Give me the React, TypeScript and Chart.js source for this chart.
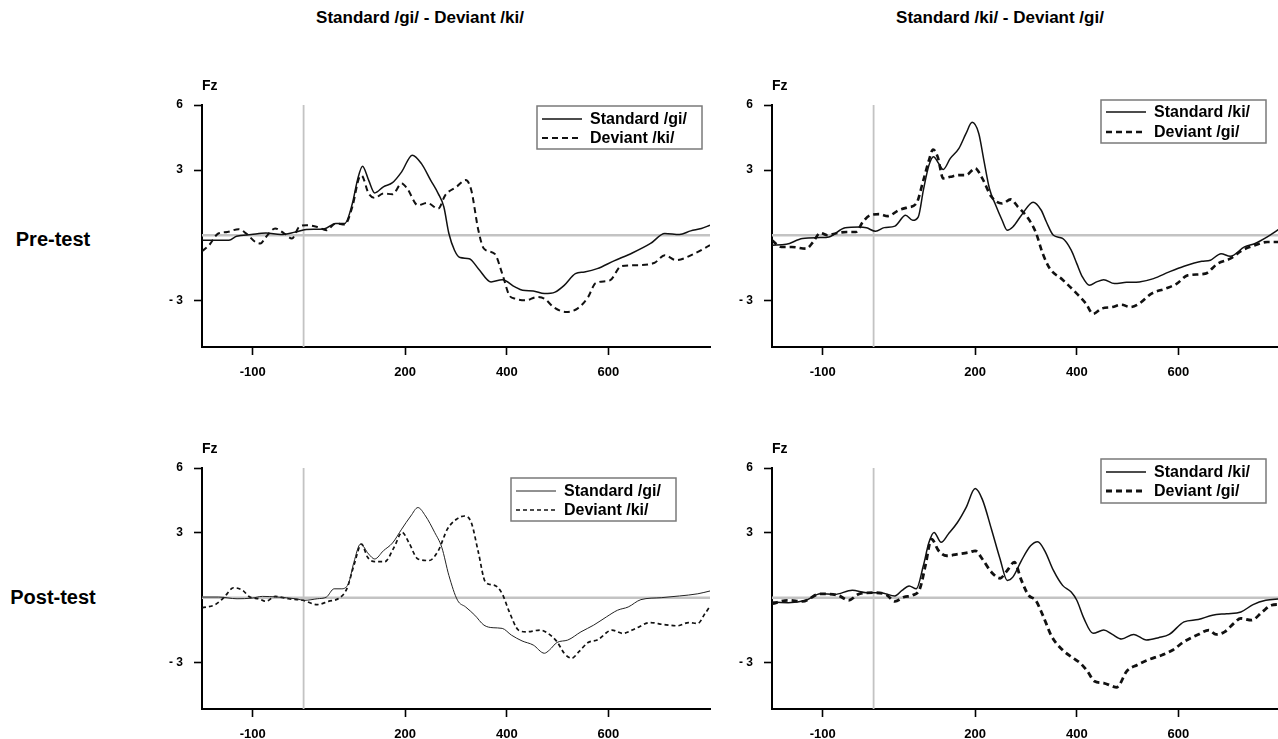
import React, { useEffect, useRef } from 'react';
import { Chart, registerables } from 'chart.js';

Chart.register(...registerables);

const FONT = '"Liberation Sans", Arial, Helvetica, sans-serif';

// ---------- text ----------
const columnTitles = ['Standard /gi/ - Deviant /ki/', 'Standard /ki/ - Deviant /gi/'];
const rowTitles = ['Pre-test', 'Post-test'];
const channelName = 'Fz';
const seriesLabels = [
  ['Standard /gi/', 'Deviant /ki/'],
  ['Standard /ki/', 'Deviant /gi/'],
];

// ---------- axes ----------
const xTickValues = [-100, 200, 400, 600];
const yTickValues = [6, 3, -3];
const xMin = -200;
const xMax = 800;
const yMin = -5.15;
const yMax = 6;
const baselineValue = 0;
const stimulusOnset = 0;

// ---------- Pre-test, Standard /gi/ - Deviant /ki/ ----------
const preStdGiT = [-200, -147, -132, -103, -74, -45, -16, 5, 41, 63, 81, 96, 106, 116, 128, 140, 157, 175, 193, 214, 232, 250, 265, 276, 286, 297, 308, 326, 344, 369, 391, 416, 431, 452, 474, 495, 513, 535, 553, 578, 611, 647, 683, 711, 740, 762, 783, 800];
const preStdGiV = [-0.23, -0.23, -0.05, 0.03, 0.1, 0.03, 0.15, 0.26, 0.3, 0.54, 0.54, 1.46, 2.54, 3.18, 2.54, 1.95, 2.23, 2.42, 2.92, 3.69, 3.3, 2.54, 1.92, 1.31, 0.08, -0.69, -1.03, -1.08, -1.54, -2.15, -2.05, -2.38, -2.54, -2.57, -2.69, -2.62, -2.31, -1.77, -1.69, -1.54, -1.18, -0.82, -0.38, 0.08, 0.03, 0.2, 0.31, 0.46];
const preDevKiT = [-200, -186, -168, -150, -128, -113, -95, -85, -74, -56, -38, -23, -9, 5, 27, 45, 63, 81, 96, 110, 114, 128, 140, 157, 175, 193, 204, 225, 243, 265, 279, 301, 319, 330, 344, 355, 376, 391, 405, 416, 438, 459, 474, 492, 517, 539, 560, 575, 603, 625, 654, 690, 711, 733, 769, 800];
const preDevKiV = [-0.74, -0.46, 0.08, 0.15, 0.28, 0.08, -0.31, -0.38, -0.08, 0.31, 0.08, -0.15, 0.38, 0.46, 0.38, 0.23, 0.54, 0.49, 1.31, 2.69, 2.75, 1.92, 1.72, 1.92, 1.89, 2.38, 2.15, 1.38, 1.49, 1.23, 1.85, 2.23, 2.54, 2.08, 0.23, -0.62, -0.85, -1.77, -2.77, -2.92, -3.0, -2.85, -2.92, -3.31, -3.54, -3.38, -2.85, -2.2, -2.08, -1.43, -1.38, -1.28, -0.92, -1.15, -0.85, -0.46];

// ---------- Pre-test, Standard /ki/ - Deviant /gi/ ----------
const preStdKiT = [-200, -172, -140, -105, -88, -56, -28, -14, 4, 21, 42, 63, 77, 88, 98, 109, 118, 128, 137, 151, 168, 182, 194, 207, 217, 228, 239, 253, 263, 274, 291, 314, 330, 340, 354, 372, 389, 400, 411, 425, 439, 453, 474, 498, 523, 551, 582, 611, 646, 663, 684, 702, 730, 751, 775, 800];
const preStdKiV = [-0.46, -0.42, -0.15, -0.11, -0.08, 0.34, 0.38, 0.34, 0.18, 0.35, 0.42, 0.92, 0.69, 0.85, 2.08, 3.23, 3.62, 3.31, 3.03, 3.54, 4.0, 4.69, 5.2, 4.69, 3.46, 2.15, 1.46, 0.69, 0.23, 0.38, 0.92, 1.52, 1.15, 0.62, 0.0, -0.15, -0.69, -1.31, -1.92, -2.31, -2.15, -2.05, -2.23, -2.17, -2.15, -2.0, -1.69, -1.43, -1.2, -1.15, -0.85, -0.97, -0.54, -0.38, -0.08, 0.31];
const preDevGiT = [-200, -182, -161, -133, -119, -105, -91, -70, -53, -35, -21, -7, 11, 28, 49, 67, 84, 98, 109, 117, 126, 137, 151, 168, 182, 200, 214, 232, 253, 270, 284, 302, 319, 333, 347, 372, 400, 418, 432, 449, 470, 488, 505, 523, 547, 575, 597, 618, 653, 677, 702, 726, 751, 775, 800];
const preDevGiV = [-0.23, -0.54, -0.54, -0.62, -0.31, 0.11, 0.0, 0.11, 0.15, 0.15, 0.62, 0.92, 0.97, 0.88, 1.15, 1.28, 1.46, 2.54, 3.46, 3.95, 3.62, 2.62, 2.69, 2.77, 2.77, 3.08, 2.62, 1.77, 1.46, 1.65, 1.31, 0.85, 0.15, -0.85, -1.54, -2.05, -2.69, -3.15, -3.62, -3.38, -3.31, -3.2, -3.31, -3.15, -2.69, -2.46, -2.23, -1.85, -1.77, -1.31, -1.08, -0.69, -0.46, -0.31, -0.31];

// ---------- Post-test, Standard /gi/ - Deviant /ki/ ----------
const postStdGiT = [-200, -167, -131, -102, -81, -52, -16, 2, 27, 45, 60, 74, 88, 99, 112, 128, 140, 157, 175, 193, 211, 225, 240, 258, 272, 286, 303, 319, 337, 355, 373, 391, 409, 430, 452, 474, 484, 499, 520, 546, 571, 596, 618, 639, 664, 704, 740, 776, 800];
const postStdGiV = [0.03, 0.03, -0.05, -0.02, 0.06, 0.03, -0.05, -0.12, -0.05, 0.03, 0.41, 0.41, 0.64, 1.64, 2.48, 2.02, 1.79, 2.17, 2.53, 3.17, 3.78, 4.17, 3.78, 3.02, 2.33, 1.03, -0.12, -0.43, -0.81, -1.27, -1.39, -1.42, -1.73, -2.0, -2.19, -2.57, -2.42, -2.07, -1.96, -1.58, -1.27, -0.89, -0.58, -0.43, -0.09, 0.0, 0.08, 0.18, 0.31];
const postDevKiT = [-200, -174, -156, -138, -120, -106, -88, -74, -56, -30, -2, 27, 49, 70, 85, 99, 114, 126, 140, 160, 178, 194, 207, 225, 247, 265, 283, 301, 317, 330, 344, 358, 376, 391, 405, 423, 438, 466, 481, 499, 513, 528, 542, 560, 578, 607, 628, 654, 682, 708, 736, 758, 776, 790, 800];
const postDevKiV = [-0.47, -0.32, 0.03, 0.46, 0.34, 0.03, -0.05, -0.17, 0.06, -0.05, -0.12, -0.32, -0.17, -0.02, 0.41, 1.49, 2.48, 1.87, 1.67, 1.67, 2.33, 3.02, 2.56, 1.79, 1.72, 2.17, 3.17, 3.63, 3.78, 3.48, 2.1, 0.72, 0.57, 0.18, -0.66, -1.5, -1.58, -1.5, -1.65, -2.04, -2.57, -2.8, -2.5, -2.07, -1.96, -1.5, -1.65, -1.42, -1.15, -1.24, -1.3, -1.15, -1.19, -0.74, -0.4];

// ---------- Post-test, Standard /ki/ - Deviant /gi/ ----------
const postStdKiT = [-200, -168, -133, -105, -77, -42, -14, 14, 42, 56, 70, 84, 98, 109, 119, 133, 147, 165, 182, 200, 214, 232, 249, 263, 274, 291, 309, 323, 337, 354, 372, 389, 400, 414, 432, 453, 470, 488, 512, 537, 561, 582, 611, 639, 667, 695, 723, 747, 772, 800];
const postStdKiV = [-0.2, -0.23, -0.12, 0.18, 0.15, 0.34, 0.23, 0.23, 0.08, 0.34, 0.54, 0.41, 1.49, 2.56, 3.02, 2.56, 2.94, 3.48, 4.17, 5.05, 4.55, 3.17, 1.79, 0.8, 0.95, 1.72, 2.4, 2.59, 2.17, 1.26, 0.57, 0.26, -0.12, -0.96, -1.65, -1.5, -1.7, -1.91, -1.7, -1.96, -1.85, -1.7, -1.12, -1.01, -0.81, -0.74, -0.66, -0.32, -0.12, -0.05];
const postDevGiT = [-200, -168, -140, -105, -70, -49, -28, 0, 25, 42, 60, 77, 91, 102, 114, 128, 144, 168, 189, 200, 214, 232, 249, 263, 277, 291, 305, 319, 333, 351, 372, 393, 407, 421, 435, 453, 470, 478, 484, 498, 519, 540, 568, 589, 611, 639, 660, 674, 691, 709, 723, 744, 765, 783, 800];
const postDevGiV = [-0.28, -0.12, -0.17, 0.18, 0.11, -0.12, 0.18, 0.23, 0.14, -0.17, 0.03, 0.11, 0.41, 1.49, 2.71, 2.17, 1.94, 2.02, 2.1, 2.17, 1.79, 1.18, 0.9, 1.26, 1.64, 0.8, 0.11, -0.12, -0.81, -1.81, -2.42, -2.8, -3.03, -3.41, -3.87, -3.95, -4.1, -4.15, -4.03, -3.41, -3.11, -2.88, -2.65, -2.42, -2.04, -1.7, -1.5, -1.7, -1.58, -1.19, -0.96, -1.04, -0.66, -0.35, -0.31];

const toPoints = (t: number[], v: number[]) => t.map((x, i) => ({ x, y: v[i] }));

type LineStyle = { width: number; dash: number[]; color: string };
type PanelCfg = {
  left: number; top: number; width: number; height: number;
  padTop: number; padRight: number; yWidth: number; xHeight: number;
  labels: string[];
  std: { t: number[]; v: number[]; style: LineStyle };
  dev: { t: number[]; v: number[]; style: LineStyle };
  legend: { right: number; top: number; width: number; height: number; rows: number[] };
};

const panels: PanelCfg[] = [
  {
    left: 140, top: 60, width: 580, height: 330, padTop: 45, padRight: 10, yWidth: 62, xHeight: 43,
    labels: seriesLabels[0],
    std: { t: preStdGiT, v: preStdGiV, style: { width: 1.5, dash: [], color: '#111' } },
    dev: { t: preDevKiT, v: preDevKiV, style: { width: 2, dash: [6, 4], color: '#111' } },
    legend: { right: 8, top: 1, width: 165, height: 43, rows: [13, 32] },
  },
  {
    left: 710, top: 60, width: 572, height: 330, padTop: 45, padRight: 2, yWidth: 62, xHeight: 43,
    labels: seriesLabels[1],
    std: { t: preStdKiT, v: preStdKiV, style: { width: 1.5, dash: [], color: '#111' } },
    dev: { t: preDevGiT, v: preDevGiV, style: { width: 2.6, dash: [6, 4], color: '#111' } },
    legend: { right: 14, top: -5, width: 165, height: 43, rows: [12, 32] },
  },
  {
    left: 140, top: 423, width: 580, height: 330, padTop: 45, padRight: 10, yWidth: 62, xHeight: 44,
    labels: seriesLabels[0],
    std: { t: postStdGiT, v: postStdGiV, style: { width: 1, dash: [], color: '#222' } },
    dev: { t: postDevKiT, v: postDevKiV, style: { width: 1.7, dash: [4, 3], color: '#111' } },
    legend: { right: 34, top: 10, width: 165, height: 43, rows: [13, 32] },
  },
  {
    left: 710, top: 423, width: 572, height: 330, padTop: 45, padRight: 2, yWidth: 62, xHeight: 44,
    labels: seriesLabels[1],
    std: { t: postStdKiT, v: postStdKiV, style: { width: 1.5, dash: [], color: '#111' } },
    dev: { t: postDevGiT, v: postDevGiV, style: { width: 2.8, dash: [6, 4], color: '#111' } },
    legend: { right: 14, top: -9, width: 165, height: 44, rows: [13, 32] },
  },
];

const boxLegendPlugin = {
  id: 'boxLegend',
  afterDraw(chart: any, _args: any, opts: any) {
    const { ctx, chartArea } = chart;
    ctx.save();
    ctx.font = `bold 14px ${FONT}`;
    ctx.fillStyle = '#000';
    ctx.textAlign = 'left';
    ctx.textBaseline = 'middle';
    ctx.fillText(opts.channel, chartArea.left, chartArea.top - 19);
    const x0 = chartArea.right - opts.right - opts.width;
    const y0 = chartArea.top + opts.top;
    ctx.strokeStyle = '#7a7a7a';
    ctx.lineWidth = 1.5;
    ctx.setLineDash([]);
    ctx.strokeRect(x0, y0, opts.width, opts.height);
    ctx.font = `bold 16px ${FONT}`;
    const items = chart.data.datasets.filter((d: any) => d.inLegend);
    items.forEach((ds: any, i: number) => {
      const y = y0 + opts.rows[i];
      ctx.strokeStyle = ds.borderColor;
      ctx.lineWidth = ds.borderWidth;
      ctx.setLineDash(ds.borderDash || []);
      ctx.beginPath();
      ctx.moveTo(x0 + 5, y);
      ctx.lineTo(x0 + 45, y);
      ctx.stroke();
      ctx.setLineDash([]);
      ctx.fillStyle = '#000';
      ctx.fillText(ds.label, x0 + 53, y + 1);
    });
    ctx.restore();
  },
};

function Panel({ cfg }: { cfg: PanelCfg }) {
  const ref = useRef<HTMLCanvasElement | null>(null);
  useEffect(() => {
    if (!ref.current) return;
    const grey = '#c3c3c3';
    const chart = new Chart(ref.current, {
      type: 'line',
      data: {
        datasets: [
          {
            label: cfg.labels[0],
            data: toPoints(cfg.std.t, cfg.std.v),
            borderColor: cfg.std.style.color,
            borderWidth: cfg.std.style.width,
            borderDash: cfg.std.style.dash,
            pointRadius: 0,
            cubicInterpolationMode: 'monotone',
            fill: false,
            inLegend: true,
          } as any,
          {
            label: cfg.labels[1],
            data: toPoints(cfg.dev.t, cfg.dev.v),
            borderColor: cfg.dev.style.color,
            borderWidth: cfg.dev.style.width,
            borderDash: cfg.dev.style.dash,
            pointRadius: 0,
            cubicInterpolationMode: 'monotone',
            fill: false,
            inLegend: true,
          } as any,
          {
            label: 'baseline',
            data: [{ x: xMin, y: baselineValue }, { x: xMax, y: baselineValue }],
            borderColor: grey,
            borderWidth: 2.5,
            pointRadius: 0,
            fill: false,
          },
          {
            label: 'onset',
            data: [{ x: stimulusOnset, y: yMin }, { x: stimulusOnset, y: yMax }],
            borderColor: grey,
            borderWidth: 1.8,
            pointRadius: 0,
            fill: false,
          },
        ],
      },
      options: {
        responsive: false,
        animation: false,
        devicePixelRatio: 1,
        layout: { padding: { top: cfg.padTop, right: cfg.padRight, left: 0, bottom: 0 } },
        plugins: {
          legend: { display: false },
          tooltip: { enabled: false },
          title: { display: false },
          boxLegend: { ...cfg.legend, channel: channelName },
        } as any,
        scales: {
          x: {
            type: 'linear',
            min: xMin,
            max: xMax,
            afterBuildTicks: (scale: any) => {
              scale.ticks = xTickValues.map((value) => ({ value }));
            },
            afterFit: (scale: any) => {
              scale.height = cfg.xHeight;
            },
            ticks: {
              color: '#000',
              font: { family: FONT, size: 13, weight: 'bold' },
              padding: 10,
              maxRotation: 0,
              autoSkip: false,
              callback: (v: any) => String(v),
            },
            grid: { display: true, drawOnChartArea: false, drawTicks: true, tickLength: 8, tickWidth: 1.6, tickColor: '#000' },
            border: { display: true, color: '#000', width: 2 },
          },
          y: {
            type: 'linear',
            min: yMin,
            max: yMax,
            afterBuildTicks: (scale: any) => {
              scale.ticks = yTickValues.map((value) => ({ value }));
            },
            afterFit: (scale: any) => {
              scale.width = cfg.yWidth;
            },
            ticks: {
              color: '#000',
              font: { family: FONT, size: 12, weight: 'bold' },
              padding: 11,
              autoSkip: false,
              callback: (v: any) => (v < 0 ? '- ' + String(Math.abs(v)) : String(v)),
            },
            grid: { display: true, drawOnChartArea: false, drawTicks: true, tickLength: 8, tickWidth: 1.6, tickColor: '#000' },
            border: { display: true, color: '#000', width: 2 },
          },
        },
      } as any,
      plugins: [boxLegendPlugin],
    });
    return () => chart.destroy();
  }, [cfg]);
  return (
    <canvas
      ref={ref}
      width={cfg.width}
      height={cfg.height}
      style={{ position: 'absolute', left: cfg.left, top: cfg.top, width: cfg.width, height: cfg.height }}
    />
  );
}

const textStyle: React.CSSProperties = {
  position: 'absolute',
  fontFamily: FONT,
  fontWeight: 'bold',
  color: '#000',
  whiteSpace: 'nowrap',
  lineHeight: 1,
};

export default function App() {
  return (
    <div style={{ position: 'fixed', left: 0, top: 0, width: 1278, height: 739, background: '#fff', overflow: 'hidden' }}>
      {panels.map((p, i) => (
        <Panel key={i} cfg={p} />
      ))}
      <div style={{ ...textStyle, left: 420, top: 9, fontSize: 17, transform: 'translateX(-50%)' }}>{columnTitles[0]}</div>
      <div style={{ ...textStyle, left: 1000, top: 9, fontSize: 17, transform: 'translateX(-50%)' }}>{columnTitles[1]}</div>
      <div style={{ ...textStyle, left: 53, top: 229, fontSize: 20, transform: 'translateX(-50%)' }}>{rowTitles[0]}</div>
      <div style={{ ...textStyle, left: 53, top: 587, fontSize: 20, transform: 'translateX(-50%)' }}>{rowTitles[1]}</div>
    </div>
  );
}
